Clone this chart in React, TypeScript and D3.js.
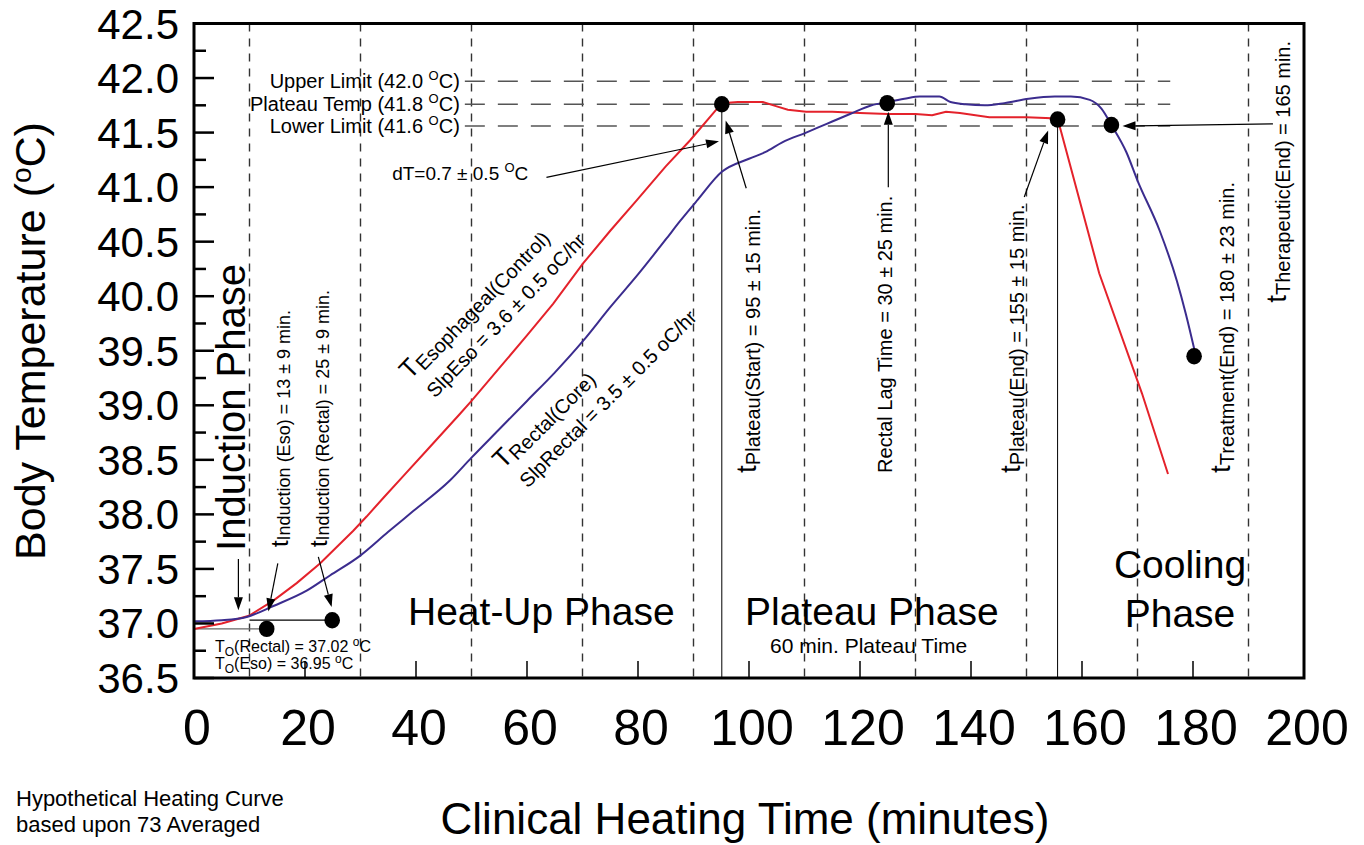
import * as d3 from "d3";

// esophageal (control) temperature, red
const esoTime = [0, 5, 9.9, 14.3, 18.5, 22.7, 28.7, 31.1, 34.1, 37.7, 42, 47.9, 50, 55, 60, 64.7, 70.1, 75, 79.8, 85, 89.4, 95.1, 98, 102.5, 105, 107, 110.3, 115, 120, 125, 130, 133, 135.5, 138, 143.3, 150, 155.6, 163.1, 170.8, 175.5];
const esoTemp = [36.95, 37.0, 37.07, 37.21, 37.37, 37.55, 37.85, 37.98, 38.15, 38.35, 38.59, 38.92, 39.04, 39.34, 39.64, 39.93, 40.3, 40.6, 40.88, 41.19, 41.43, 41.77, 41.78, 41.78, 41.74, 41.71, 41.69, 41.69, 41.68, 41.67, 41.67, 41.66, 41.69, 41.68, 41.64, 41.64, 41.63, 40.21, 39.11, 38.37];

// rectal (core) temperature, blue
const rectalTime = [0, 5, 9.5, 14.3, 20.3, 24.5, 29.9, 35, 39.5, 46.1, 50, 55, 60, 65, 70.1, 75, 80, 85, 87.6, 90.7, 95.1, 100, 102.9, 106, 110.3, 114, 118.2, 122.1, 124.9, 128, 130.8, 134.3, 136.3, 139, 142.5, 146, 150.4, 155.1, 158, 161.4, 163.5, 165.3, 168, 170, 174, 177.1, 178.7, 180.3];
const rectalTemp = [37.02, 37.03, 37.06, 37.16, 37.3, 37.44, 37.62, 37.84, 38.03, 38.31, 38.52, 38.78, 39.04, 39.3, 39.59, 39.9, 40.2, 40.52, 40.69, 40.88, 41.14, 41.26, 41.32, 41.41, 41.5, 41.58, 41.67, 41.75, 41.78, 41.81, 41.83, 41.83, 41.78, 41.76, 41.75, 41.77, 41.81, 41.83, 41.83, 41.8, 41.72, 41.57, 41.32, 41.06, 40.6, 40.14, 39.84, 39.5];

const xTicks = [0, 20, 40, 60, 80, 100, 120, 140, 160, 180, 200];
const yTicks = [36.5, 37.0, 37.5, 38.0, 38.5, 39.0, 39.5, 40.0, 40.5, 41.0, 41.5, 42.0, 42.5];
const yMinor = [36.75, 37.25, 37.75, 38.25, 38.75, 39.25, 39.75, 40.25, 40.75, 41.25, 41.75, 42.25];
const phaseLines = [10, 30, 50, 70, 90, 110, 130, 150, 170, 190];

const limitTemps = [41.97, 41.76, 41.56];
const limitLabels = ["Upper Limit (42.0 ", "Plateau Temp (41.8 ", "Lower Limit (41.6 "];

const keyTimes = [13.1, 24.9, 95.1, 124.9, 155.6, 165.3, 180.2];
const keyTemps = [36.95, 37.03, 41.76, 41.77, 41.62, 41.57, 39.45];

// arrows: [tailTime, tailTemp, headTime, headTemp]
const arrows = [
  [63.5, 41.09, 94.6, 41.42],
  [99.5, 40.99, 95.8, 41.61],
  [125.1, 41.0, 125.1, 41.69],
  [149.6, 40.91, 153.9, 41.52],
  [194.4, 41.58, 167.3, 41.56],
  [8, 37.59, 8, 37.12],
  [15.1, 37.55, 13.4, 37.11],
  [22.4, 37.61, 24.8, 37.15],
];

const FONT = "'Liberation Sans', Arial, Helvetica, sans-serif";
const RED = "#e4222b";
const BLUE = "#3b2c8e";

export default function App() {
  const W = 1364, H = 845;
  const x = d3.scaleLinear().domain([0, 200]).range([194, 1304]);
  const y = d3.scaleLinear().domain([36.5, 42.5]).range([678, 23.5]);

  const esoPath = d3.line<number>().x((d, i) => x(esoTime[i])).y(d => y(d))(esoTemp) || "";
  const rectalPath = d3.line<number>().x((d, i) => x(rectalTime[i])).y(d => y(d)).curve(d3.curveMonotoneX)(rectalTemp) || "";

  const arrowEls = arrows.map((a, i) => {
    const x1 = x(a[0]), y1 = y(a[1]), x2 = x(a[2]), y2 = y(a[3]);
    const ang = Math.atan2(y2 - y1, x2 - x1);
    const L = 13, hw = 4.5;
    const bx = x2 - L * Math.cos(ang), by = y2 - L * Math.sin(ang);
    const px = -Math.sin(ang) * hw, py = Math.cos(ang) * hw;
    return (
      <g key={"a" + i}>
        <line x1={x1} y1={y1} x2={bx} y2={by} stroke="#000" strokeWidth={1.2} />
        <polygon points={`${x2},${y2} ${bx + px},${by + py} ${bx - px},${by - py}`} fill="#000" />
      </g>
    );
  });

  const rot = (t: number, v: number, a = -90) => `translate(${x(t)},${y(v)}) rotate(${a})`;

  const tLabel = (t: number, v: number, sub: string, big: number, small: number, shift: number) => (
    <text transform={rot(t, v)} fontSize={small}>
      <tspan fontSize={big}>t</tspan>
      <tspan dy={shift}>{sub}</tspan>
    </text>
  );

  return (
    <svg width={W} height={H} style={{ position: "absolute", left: 0, top: 0, background: "#fff" }} fontFamily={FONT}>
      {/* phase separators */}
      {phaseLines.map(t => (
        <line key={"p" + t} x1={x(t)} x2={x(t)} y1={y(42.5)} y2={y(36.5)} stroke="#333" strokeWidth={1.4} strokeDasharray="8,7" />
      ))}
      {/* limit lines */}
      {limitTemps.map((v, i) => (
        <g key={"l" + i}>
          <line x1={x(48.8)} x2={x(175.9)} y1={y(v)} y2={y(v)} stroke="#555" strokeWidth={1.5} strokeDasharray="20,13" />
          <text x={x(47.9)} y={y(v) + 7} fontSize={20} textAnchor="end">
            {limitLabels[i]}
            <tspan fontSize={13} dy={-8}>O</tspan>
            <tspan dy={8}>C)</tspan>
          </text>
        </g>
      ))}

      {/* reference lines */}
      <line x1={x(keyTimes[2])} x2={x(keyTimes[2])} y1={y(keyTemps[2])} y2={y(36.5)} stroke="#000" strokeWidth={1} />
      <line x1={x(keyTimes[4])} x2={x(keyTimes[4])} y1={y(keyTemps[4])} y2={y(36.5)} stroke="#000" strokeWidth={1} />
      <line x1={x(0)} x2={x(keyTimes[0])} y1={y(keyTemps[0])} y2={y(keyTemps[0])} stroke="#666" strokeWidth={1.2} />
      <line x1={x(10)} x2={x(keyTimes[1])} y1={y(keyTemps[1])} y2={y(keyTemps[1])} stroke="#000" strokeWidth={1.2} />

      {/* curves */}
      <path d={esoPath} fill="none" stroke={RED} strokeWidth={2} />
      <path d={rectalPath} fill="none" stroke={BLUE} strokeWidth={2} />

      {keyTimes.map((t, i) => (
        <ellipse key={"k" + i} cx={x(t)} cy={y(keyTemps[i])} rx={7.8} ry={8.2} fill="#000" />
      ))}

      {arrowEls}

      {/* frame and ticks */}
      <rect x={x(0)} y={y(42.5)} width={x(200) - x(0)} height={y(36.5) - y(42.5)} fill="none" stroke="#000" strokeWidth={3} />
      {yTicks.map(v => (
        <line key={"yt" + v} x1={x(0)} x2={x(0) + 20} y1={y(v)} y2={y(v)} stroke="#000" strokeWidth={2.5} />
      ))}
      {yMinor.map(v => (
        <line key={"ym" + v} x1={x(0)} x2={x(0) + 12} y1={y(v)} y2={y(v)} stroke="#000" strokeWidth={2.5} />
      ))}
      {xTicks.map(t => (
        <line key={"xt" + t} x1={x(t)} x2={x(t)} y1={y(36.5)} y2={y(36.5) - 17} stroke="#000" strokeWidth={1.5} />
      ))}
      {yTicks.map(v => (
        <text key={"yl" + v} x={x(0) - 15} y={y(v) + 15} fontSize={42} textAnchor="end">{v.toFixed(1)}</text>
      ))}
      {xTicks.map(t => (
        <text key={"xl" + t} x={x(t) + 3} y={745} fontSize={50} textAnchor="middle">{t}</text>
      ))}

      {/* axis titles */}
      <text transform="translate(45,341) rotate(-90)" fontSize={43} textAnchor="middle">
        Body Temperature (<tspan fontSize={28} dy={-14}>o</tspan><tspan dy={14}>C)</tspan>
      </text>
      <text x={745} y={834} fontSize={44} textAnchor="middle">Clinical Heating Time (minutes)</text>
      <text x={16} y={806} fontSize={22}>Hypothetical Heating Curve</text>
      <text x={16} y={832} fontSize={22}>based upon 73 Averaged</text>

      {/* phases */}
      <text transform={rot(9.19, 38.98)} fontSize={40} textAnchor="middle">Induction Phase</text>
      <text x={x(38.56)} y={y(36.985)} fontSize={39}>Heat-Up Phase</text>
      <text x={x(99.28)} y={y(36.985)} fontSize={39}>Plateau Phase</text>
      <text x={x(103.78)} y={y(36.73)} fontSize={21}>60 min. Plateau Time</text>
      <text x={x(177.66)} y={y(37.42)} fontSize={39} textAnchor="middle">Cooling</text>
      <text x={x(177.66)} y={y(36.97)} fontSize={39} textAnchor="middle">Phase</text>

      {/* starting temperatures */}
      <text x={x(3.78)} y={y(36.74)} fontSize={16}>
        T<tspan fontSize={12} dy={4}>O</tspan><tspan dy={-4}>(Rectal) = 37.02 </tspan>
        <tspan fontSize={12} dy={-6}>o</tspan><tspan dy={6}>C</tspan>
      </text>
      <text x={x(3.78)} y={y(36.58)} fontSize={16}>
        T<tspan fontSize={12} dy={4}>O</tspan><tspan dy={-4}>(Eso) = 36.95 </tspan>
        <tspan fontSize={12} dy={-6}>o</tspan><tspan dy={6}>C</tspan>
      </text>

      {/* dT */}
      <text x={x(35.7)} y={y(41.065)} fontSize={19}>
        dT=0.7 ± 0.5 <tspan fontSize={13} dy={-8}>O</tspan><tspan dy={8}>C</tspan>
      </text>

      {/* vertical time annotations */}
      {tLabel(16.94, 37.7, "Induction (Eso) = 13 ± 9 min.", 24, 18, 2)}
      {tLabel(23.96, 37.7, "Induction (Rectal) = 25 ± 9 min.", 24, 18, 2)}
      {tLabel(101.26, 38.38, "Plateau(Start) = 95 ± 15 min.", 28, 20, 4)}
      <text transform={rot(125.77, 38.38)} fontSize={20}>Rectal Lag Time = 30 ± 25 min.</text>
      {tLabel(148.83, 38.38, "Plateau(End) = 155 ± 15 min.", 28, 20, 4)}
      {tLabel(186.67, 38.38, "Treatment(End) = 180 ± 23 min.", 28, 20, 4)}
      {tLabel(196.76, 39.94, "Therapeutic(End) = 165 min.", 28, 20, 4)}

      {/* slope annotations */}
      <text transform={rot(38.92, 39.23, -46)} fontSize={20}>
        <tspan fontSize={26}>T</tspan><tspan dy={4}>Esophageal(Control)</tspan>
      </text>
      <text transform={rot(38.92, 39.23, -46)} fontSize={20}>
        <tspan x={4} y={31}>SlpEso = 3.6 ± 0.5 oC/hr</tspan>
      </text>
      <text transform={rot(55.68, 38.41, -45)} fontSize={20}>
        <tspan fontSize={26}>T</tspan><tspan dy={4}>Rectal(Core)</tspan>
      </text>
      <text transform={rot(55.68, 38.41, -45)} fontSize={20}>
        <tspan x={4} y={31}>SlpRectal = 3.5 ± 0.5 oC/hr</tspan>
      </text>
    </svg>
  );
}
